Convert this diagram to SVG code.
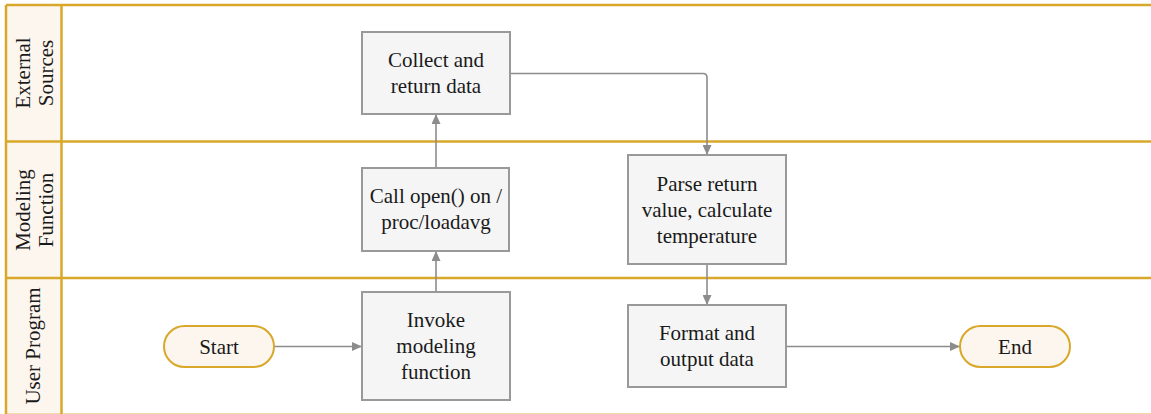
<svg xmlns="http://www.w3.org/2000/svg" width="1151" height="414" viewBox="0 0 1151 414">
<style>
.lane{stroke:#d9a82a;stroke-width:2.5;fill:none}
.hdr{fill:#fdf6ef}
.box{fill:#f5f5f5;stroke:#999999;stroke-width:2}
.term{fill:#fdf6ef;stroke:#d9a82a;stroke-width:2}
.t{font-family:"Liberation Serif","Times New Roman",serif;font-size:21px;fill:#1a1a1a;text-anchor:middle}
.c{fill:none;stroke:#8c8c8c;stroke-width:1.6}
</style>
<defs>
<marker id="arr" markerUnits="userSpaceOnUse" markerWidth="10" markerHeight="9" refX="10" refY="4.5" orient="auto">
<path d="M0,0 L10,4.5 L0,9 z" fill="#8c8c8c"/>
</marker>
</defs>
<rect width="1151" height="414" fill="#ffffff"/>
<g id="lanes">
<rect class="hdr" x="6" y="5" width="55.5" height="409"/>
<line class="lane" x1="6" y1="5" x2="1151" y2="5"/>
<line class="lane" x1="6" y1="141.5" x2="1151" y2="141.5"/>
<line class="lane" x1="6" y1="278" x2="1151" y2="278"/>
<line x1="6" y1="413.5" x2="1151" y2="413.5" stroke="#f0dca8" stroke-width="1"/>
<line class="lane" x1="6" y1="5" x2="6" y2="414"/>
<line class="lane" x1="61.5" y1="5" x2="61.5" y2="414"/>
<text class="t" transform="translate(30,73) rotate(-90)">External</text>
<text class="t" transform="translate(53,73) rotate(-90)">Sources</text>
<text class="t" transform="translate(30,210) rotate(-90)">Modeling</text>
<text class="t" transform="translate(53,210) rotate(-90)">Function</text>
<text class="t" transform="translate(40,346) rotate(-90)">User Program</text>
</g>
<g id="connectors">
<path class="c" d="M274,346.5 H362" marker-end="url(#arr)"/>
<path class="c" d="M436,292 V251" marker-end="url(#arr)"/>
<path class="c" d="M436,168 V114" marker-end="url(#arr)"/>
<path class="c" d="M510,73.5 H703 Q707,73.5 707,77.5 V155" marker-end="url(#arr)"/>
<path class="c" d="M707,264 V305" marker-end="url(#arr)"/>
<path class="c" d="M786,346.5 H960" marker-end="url(#arr)"/>
</g>
<g id="start">
<rect class="term" x="164" y="326" width="110" height="41" rx="20.5"/>
<text class="t" x="219" y="354">Start</text>
</g>
<g id="invoke">
<rect class="box" x="362" y="292" width="148" height="108"/>
<text class="t" x="436" y="327">Invoke</text>
<text class="t" x="436" y="353">modeling</text>
<text class="t" x="436" y="379">function</text>
</g>
<g id="callopen">
<rect class="box" x="362" y="168" width="147" height="83"/>
<text class="t" x="436" y="203">Call open() on /</text>
<text class="t" x="436" y="229">proc/loadavg</text>
</g>
<g id="collect">
<rect class="box" x="362" y="32" width="148" height="82"/>
<text class="t" x="436" y="67">Collect and</text>
<text class="t" x="436" y="93">return data</text>
</g>
<g id="parse">
<rect class="box" x="628" y="155" width="158" height="109"/>
<text class="t" x="707" y="191">Parse return</text>
<text class="t" x="707" y="217">value, calculate</text>
<text class="t" x="707" y="243">temperature</text>
</g>
<g id="format">
<rect class="box" x="628" y="305" width="158" height="82"/>
<text class="t" x="707" y="340">Format and</text>
<text class="t" x="707" y="366">output data</text>
</g>
<g id="end">
<rect class="term" x="960" y="326" width="110" height="41" rx="20.5"/>
<text class="t" x="1015" y="354">End</text>
</g>
</svg>
